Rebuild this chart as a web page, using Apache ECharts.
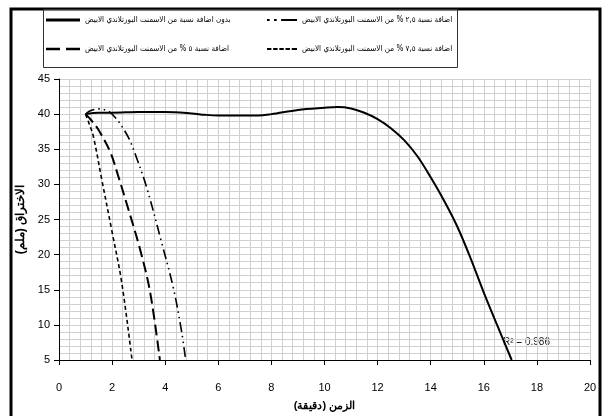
<!DOCTYPE html>
<html><head><meta charset="utf-8">
<script src="https://cdn.jsdelivr.net/npm/echarts@6/dist/echarts.min.js"></script>
<style>html,body{margin:0;padding:0;background:#fff}#c{width:610px;height:416px}</style>
</head><body><div id="c"></div>
<script>
const seriesNames = [
  'بدون اضافة نسبة من الاسمنت البورتلاندي الابيض',
  'اضافة نسبة ٢,٥ % من الاسمنت البورتلاندي الابيض',
  'اضافة نسبة ٥ % من الاسمنت البورتلاندي الابيض',
  'اضافة نسبة ٧,٥ % من الاسمنت البورتلاندي الابيض'
];
const xTicks = [0,2,4,6,8,10,12,14,16,18,20];
const yTicks = [5,10,15,20,25,30,35,40,45];
const control = [[1,40],[1.5,40.2],[2,40.2],[3,40.3],[4,40.3],[5,40.1],[5.5,39.9],[6,39.8],[7,39.8],[7.5,39.8],[8,40.0],[9,40.6],[10,40.9],[10.5,41.0],[11,40.8],[11.5,40.2],[12,39.3],[12.5,38.0],[13,36.3],[13.5,34.0],[14,31.0],[14.5,27.7],[15,24.0],[15.5,19.5],[16,14.6],[16.5,10.0],[17.05,5]];
const add25 = [[1,40],[1.2,40.5],[1.48,40.75],[1.86,40.4],[2.1,39.6],[2.36,38.3],[2.65,36.4],[2.92,33.8],[3.3,29.6],[3.86,21.8],[4.31,15.2],[4.62,9.0],[4.77,5]];
const add50 = [[1,40],[1.2,39.2],[1.48,37.8],[1.92,34.7],[2.23,31.2],[2.61,26.5],[3.05,20.8],[3.43,14.7],[3.8,5]];
const add75 = [[1,40],[1.12,38.8],[1.29,36.9],[1.61,30.7],[1.98,23.6],[2.36,16.1],[2.75,5]];
const r2Text = 'R² = 0.986';

const font = "'Liberation Sans Narrow','Arial Narrow',Arial,sans-serif";
const legendFont = "'DejaVu Sans Condensed','DejaVu Sans',sans-serif";
const chart = echarts.init(document.getElementById('c'));
const styles = [
  {type:'solid', width:2},
  {type:[10,4,1.5,4,1.5,4], width:1.6},
  {type:[11,5], width:2},
  {type:[4,3], width:1.6}
];
const icons = [
  'path://M0,0h34v3h-34z',
  'path://M0,0h3v2.5h-3z M8,0h3v2.5h-3z M16,0h18v2.5h-18z',
  'path://M0,0h14v2.5h-14z M20,0h14v2.5h-14z',
  'path://M0,0h5v2h-5z M7,0h5v2h-5z M14,0h5v2h-5z M21,0h5v2h-5z M28,0h6v2h-6z'
];
const datas = [control, add25, add50, add75];
const legendPos = [
  {left:46, top:16}, {left:267, top:16}, {left:46, top:45}, {left:267, top:45}
];
chart.setOption({
  animation:false,
  textStyle:{fontFamily:font},
  legend: legendPos.map((p,i)=>({
    show:true, data:[{name:seriesNames[i], icon:icons[i]}], left:p.left, top:p.top, orient:'horizontal',
    itemWidth:i%2?30:34, itemHeight:i===0?3:2.5, padding:0, itemGap:6,
    textStyle:{fontSize:8, color:'#000', fontFamily:legendFont},
    selectedMode:false
  })),
  grid:{left:59, right:20, top:79, bottom:54, containLabel:false},
  xAxis:[{
    type:'value', min:0, max:20, interval:2,
    axisLine:{lineStyle:{color:'#000'}}, axisTick:{show:true, length:5, lineStyle:{color:'#000'}},
    axisLabel:{color:'#000', fontSize:11, margin:22, fontFamily:font},
    splitLine:{show:true, lineStyle:{color:'#9a9a9a', width:1}},
    name:'الزمن (دقيقة)', nameLocation:'middle', nameGap:40,
    nameTextStyle:{fontWeight:'bold', fontSize:11, color:'#000', fontFamily:font}
  },{
    type:'value', min:0, max:20, interval:0.4, position:'bottom',
    axisLine:{show:false}, axisTick:{show:false}, axisLabel:{show:false},
    splitLine:{show:true, lineStyle:{color:'#d0d0d0', width:1}}, z:0
  }],
  yAxis:[{
    type:'value', min:5, max:45, interval:5,
    axisLine:{show:true, lineStyle:{color:'#000'}}, axisTick:{show:true, length:5, lineStyle:{color:'#000'}},
    axisLabel:{color:'#000', fontSize:11, margin:9, fontFamily:font},
    splitLine:{show:true, lineStyle:{color:'#b0b0b0', width:1}},
    name:'الاختراق (ملم)', nameLocation:'middle', nameGap:28, nameRotate:90,
    nameTextStyle:{fontWeight:'bold', fontSize:12, color:'#000', fontFamily:font}
  },{
    type:'value', min:5, max:45, interval:1,
    axisLine:{show:false}, axisTick:{show:false}, axisLabel:{show:false},
    splitLine:{show:true, lineStyle:{color:'#d0d0d0', width:1}}, z:0
  }],
  series: datas.map((d,i)=>({
    name:seriesNames[i], type:'line', data:d, smooth:0.35, showSymbol:false, symbol:'none',
    xAxisIndex:0, yAxisIndex:0, clip:true,
    lineStyle:Object.assign({color:'#000'}, styles[i]), itemStyle:{color:'#000'},
    z:5
  })),
  graphic:[
    {type:'rect', shape:{x:11, y:9, width:589, height:420}, style:{fill:'none', stroke:'#000', lineWidth:3}, silent:true},
    {type:'rect', shape:{x:43.5, y:9.5, width:414, height:58}, style:{fill:'none', stroke:'#333', lineWidth:1}, silent:true},
    {type:'text', left:503, top:337, style:{text:r2Text, fill:'#222', fontSize:10, fontFamily:font}, silent:true}
  ]
});
</script></body></html>
